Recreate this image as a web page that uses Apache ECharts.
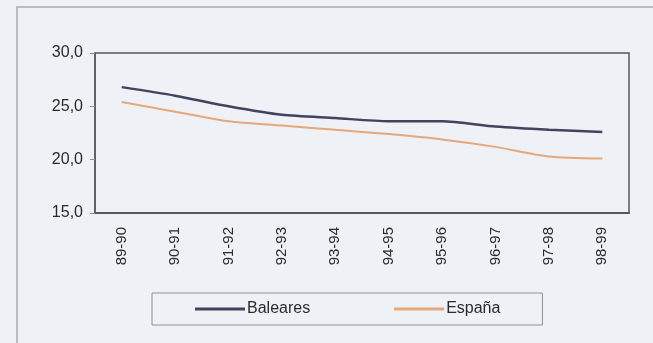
<!DOCTYPE html>
<html>
<head>
<meta charset="utf-8">
<script src="https://cdn.jsdelivr.net/npm/echarts@6/dist/echarts.min.js"></script>
<style>
html,body{margin:0;padding:0;background:#eef1f5;}
#c{width:653px;height:343px;}
</style>
</head>
<body>
<div id="c"></div>
<script>
const categories = ['89-90','90-91','91-92','92-93','93-94','94-95','95-96','96-97','97-98','98-99'];
const baleares = [26.8, 26.0, 25.0, 24.2, 23.9, 23.6, 23.6, 23.1, 22.8, 22.6];
const espana = [25.4, 24.5, 23.6, 23.2, 22.8, 22.4, 21.9, 21.2, 20.3, 20.1];
const yTicks = { min: 15, max: 30, interval: 5 };

const chart = echarts.init(document.getElementById('c'), null, {renderer: 'canvas'});
chart.setOption({
  backgroundColor: '#eef1f5',
  animation: false,
  textStyle: { fontFamily: 'Liberation Sans, Arial, sans-serif' },
  graphic: [{
    type: 'rect',
    shape: { x: 17, y: 7, width: 700, height: 400 },
    style: { fill: 'none', stroke: '#a9adb3', lineWidth: 1.5 },
    silent: true
  }],
  grid: { left: 95, top: 53, width: 534, height: 160, show: true, borderColor: '#55595f', borderWidth: 1.5, backgroundColor: 'transparent' },
  legend: {
    left: 152, top: 293,
    padding: [8, 42, 8, 43],
    borderColor: '#8c9096', borderWidth: 1,
    backgroundColor: 'transparent',
    itemWidth: 50, itemHeight: 3, itemGap: 84,
    icon: 'rect',
    textStyle: { fontSize: 16, color: '#2a2a2a', padding: [0,0,0,-3] },
    data: ['Baleares', 'España']
  },
  xAxis: {
    type: 'category',
    data: categories,
    boundaryGap: true,
    axisLine: { show: true, lineStyle: { color: '#55595f', width: 2 } },
    axisTick: { show: false },
    axisLabel: { rotate: 90, margin: 14, fontSize: 15, color: '#2a2a2a' },
    splitLine: { show: false }
  },
  yAxis: {
    type: 'value',
    min: yTicks.min, max: yTicks.max, interval: yTicks.interval,
    axisLine: { show: true, lineStyle: { color: '#55595f', width: 1.5 } },
    axisTick: { show: true, length: 5, lineStyle: { color: '#8c9096' } },
    axisLabel: { margin: 12, fontSize: 16, color: '#2a2a2a', formatter: v => v.toFixed(1).replace('.', ',') },
    splitLine: { show: false }
  },
  series: [
    { name: 'Baleares', type: 'line', data: baleares, smooth: 0.25, symbol: 'none',
      lineStyle: { color: '#41435f', width: 2.5 }, itemStyle: { color: '#41435f' } },
    { name: 'España', type: 'line', data: espana, smooth: 0.25, symbol: 'none',
      lineStyle: { color: '#e6a77a', width: 2 }, itemStyle: { color: '#e6a77a' } }
  ]
});
</script>
</body>
</html>
